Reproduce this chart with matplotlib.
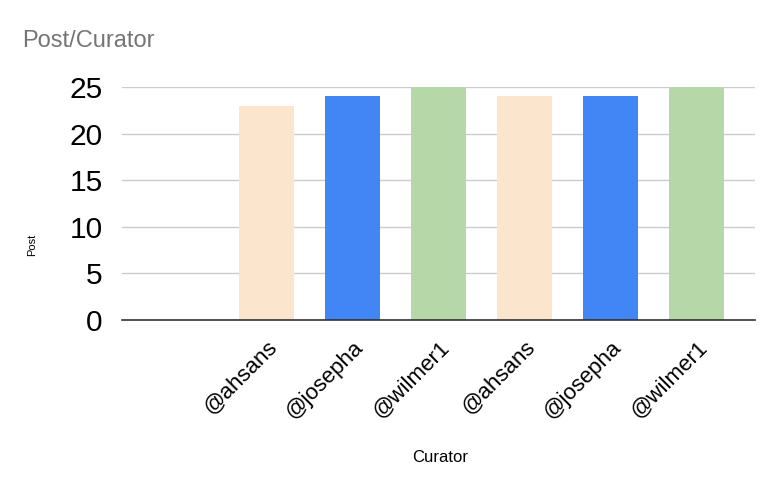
import matplotlib
matplotlib.use("Agg")
import matplotlib.pyplot as plt

categories = ["", "@ahsans", "@josepha", "@wilmer1", "@ahsans", "@josepha", "@wilmer1"]
posts = [0, 23, 24, 25, 24, 24, 25]
colors = ["#FFFFFF", "#FCE5CD", "#4285F4", "#B6D7A8", "#FCE5CD", "#4285F4", "#B6D7A8"]
yticks = [0, 5, 10, 15, 20, 25]

plt.rcParams['font.family'] = ['Liberation Sans', 'DejaVu Sans']

fig = plt.figure(figsize=(7.81, 4.93), dpi=100)
ax = fig.add_axes([122/781, 1-320/493, (755-122)/781, (320-87)/493])

x = list(range(len(categories)))
ax.bar(x[1:], posts[1:], width=0.65, color=colors[1:], zorder=3)
ax.set_xlim(-0.68, 6.68)
ax.set_ylim(0, 25)
ax.set_yticks(yticks)
ax.set_yticklabels([str(v) for v in yticks], fontsize=21.5)
ax.set_xticks(x)
ax.set_xticklabels(categories, rotation=45, ha='right', rotation_mode='anchor', fontsize=16)
ax.tick_params(axis='both', length=0)
ax.tick_params(axis='y', pad=14)
ax.tick_params(axis='x', pad=12)
ax.grid(axis='y', color='#CCCCCC', linewidth=1, zorder=0)
for s in ['top', 'right', 'left']:
    ax.spines[s].set_visible(False)
ax.spines['bottom'].set_color('#333333')
ax.spines['bottom'].set_linewidth(1.2)
ax.spines['bottom'].set_zorder(4)

fig.text(22/781, 1-47/493, "Post/Curator", fontsize=17, color='#757575', ha='left', va='baseline')
fig.text(32/781, 1-245/493, "Post", fontsize=8, rotation=90, ha='center', va='center')
fig.text(440/781, 1-458/493, "Curator", fontsize=12, ha='center', va='center')

fig.savefig("out.png", dpi=100)
